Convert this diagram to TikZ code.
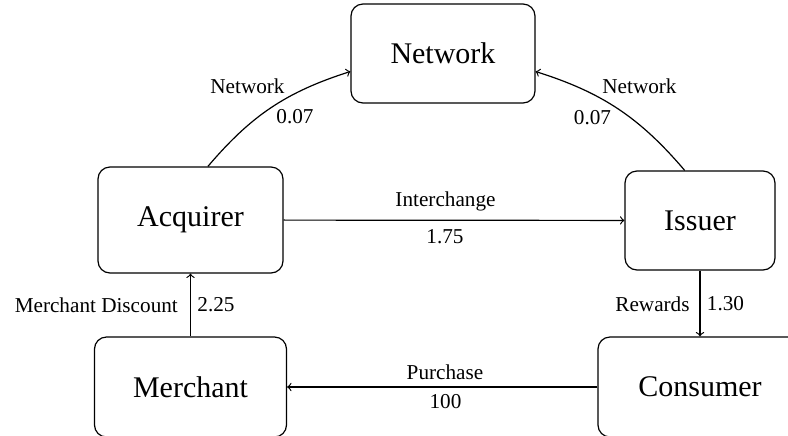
\documentclass[tikz,border=0pt]{standalone}
\usepackage{fontspec}
\setmainfont{Liberation Serif}
\usetikzlibrary{calc}
\begin{document}
\begin{tikzpicture}[x=0.5pt,y=0.5pt,
  box/.style={draw, line width=0.6pt, rounded corners=6pt, inner sep=0pt, font=\fontsize{15}{18}\selectfont},
  conn/.style={->, line width=0.6pt},
  lbl/.style={inner sep=0pt, font=\fontsize{10.6}{12}\selectfont}]
\useasboundingbox (0,0) rectangle (788,-435);
% boxes
\node[box, minimum width=92pt,   minimum height=49.5pt] (network)  at (443,-53.5)  {Network};
\node[box, minimum width=92.5pt, minimum height=53pt]   (acquirer) at (190.5,-220) {Acquirer};
\node[box, minimum width=75pt,   minimum height=49.5pt] (issuer)   at (700,-220.5) {Issuer};
\node[box, minimum width=96pt,   minimum height=50pt]   (merchant) at (190.5,-387) {Merchant};
\node[box, minimum width=102pt,  minimum height=50pt]   (consumer) at (700,-387)   {Consumer};
% connectors
\draw[conn] (acquirer.72) to[bend left=16] (network.191);
\draw[conn] (issuer.107) to[bend right=16] (network.349);
\draw[conn] (acquirer) -- (issuer);
\draw[conn] (merchant) -- (acquirer);
\draw[conn] (issuer) -- (consumer);
\draw[conn] (consumer) -- (merchant);
% labels
\node[lbl] (l1a) at (247.5,-86)  {Network};
\node[lbl] (l1b) at (295,-117)   {0.07};
\node[lbl] (l2a) at (639.5,-86)  {Network};
\node[lbl] (l2b) at (592.5,-118) {0.07};
\node[lbl] (l3a) at (445.5,-201) {Interchange};
\node[lbl] (l3b) at (445,-237)   {1.75};
\node[lbl] (l4a) at (96.3,-305)  {Merchant Discount};
\node[lbl] (l4b) at (216,-305)   {2.25};
\node[lbl] (l5a) at (652.5,-304) {Rewards};
\node[lbl] (l5b) at (725.5,-304) {1.30};
\node[lbl] (l6a) at (445,-372.5) {Purchase};
\node[lbl] (l6b) at (445.5,-402) {100};
\end{tikzpicture}
\end{document}
